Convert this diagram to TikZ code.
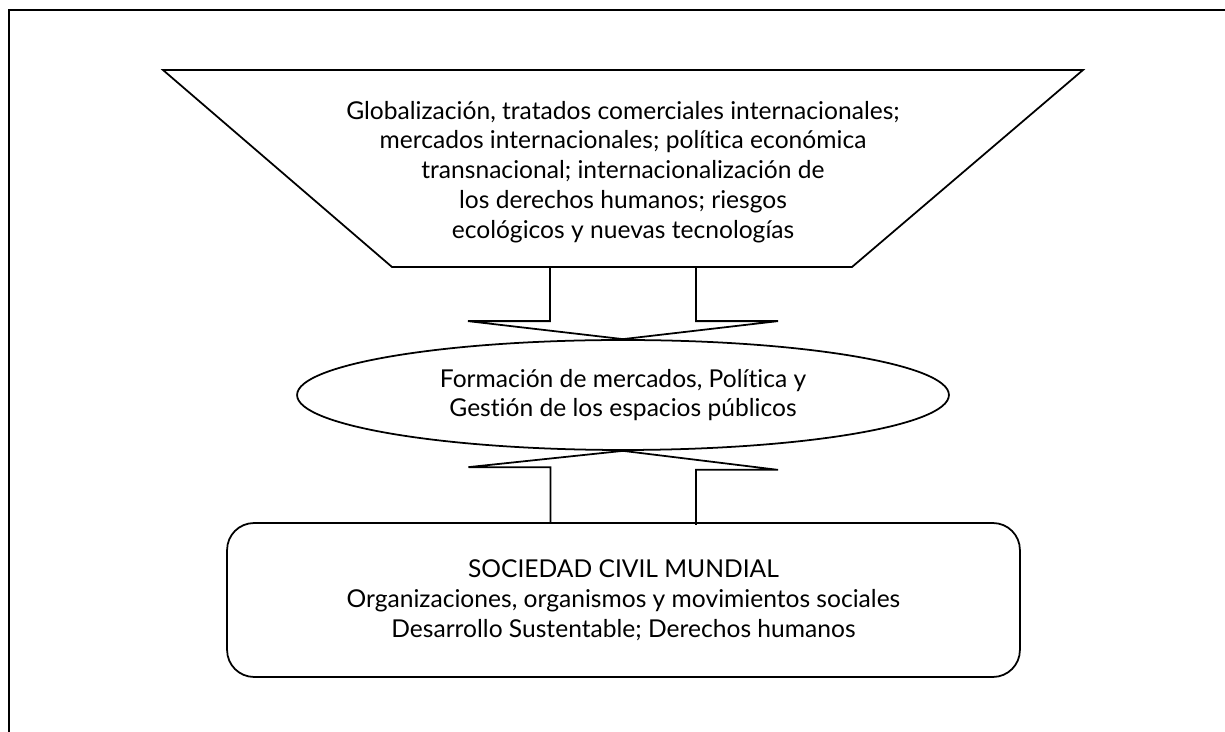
\documentclass[tikz,border=0pt]{standalone}
\usepackage{fontspec}
\setmainfont[Ligatures={NoCommon,NoRare,NoDiscretionary}]{Lato}
\usetikzlibrary{shapes.geometric, calc}

\begin{document}
\begin{tikzpicture}[x=0.02cm, y=-0.02cm, line width=1pt,
		lbl/.style={align=center, font=\fontsize{14}{17}\selectfont},
		blockarrow/.style={draw, line join=miter}]
		\useasboundingbox (0,0) rectangle (1225,732);
		% outer frame
		\draw (9,732) -- (9,10) -- (1225,10);
		% funnel
		\coordinate (f1) at (163,70);
		\coordinate (f2) at (1083,70);
		\coordinate (f3) at (852,267);
		\coordinate (f4) at (392,267);
		\draw (f1) -- (f2) -- (f3) -- (f4) -- cycle;
		\node[lbl] (glob) at (623,172) {Globalización, tratados comerciales internacionales;\\
			mercados internacionales; política económica\\
			transnacional; internacionalización de\\
			los derechos humanos; riesgos\\
			ecológicos y nuevas tecnologías};
		\node[ellipse, draw, lbl, minimum width=13.04cm, minimum height=2.2cm] (form) at (623,395)
			{Formación de mercados, Política y\\Gestión de los espacios públicos};
		\node[rectangle, draw, lbl, rounded corners=0.54cm, minimum width=15.86cm, minimum height=3.08cm] (soc) at (623.5,600)
			{SOCIEDAD CIVIL MUNDIAL\\
			Organizaciones, organismos y movimientos sociales\\
			Desarrollo Sustentable; Derechos humanos};
		% block arrows
		\draw[blockarrow] ($(form.north)+(-73,-73)$) -- ++(0,55) -- ++(-82,0) -- (form.north)
			-- ++(155,-18) -- ++(-82,0) -- ++(0,-55);
		\draw[blockarrow] ($(soc.north)+(-73,0)$) -- ++(0,-55) -- ++(-82,0) -- (form.south)
			-- ++(155,19) -- ++(-82,0) -- ++(0,55);
	\end{tikzpicture}
\end{document}
